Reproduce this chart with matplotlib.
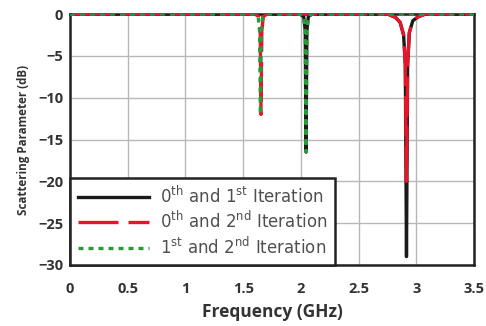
import matplotlib
matplotlib.use("Agg")
import matplotlib.pyplot as plt

# Series (frequency in GHz, scattering parameter in dB)
f_black = [0.0, 1.99, 2.025, 2.038, 2.045, 2.052, 2.065, 2.10, 2.75, 2.82, 2.86, 2.89, 2.905, 2.915, 2.925, 2.94, 2.97, 3.02, 3.08, 3.5]
s_black = [0.0, 0.0, -0.3, -2.0, -16.5, -2.0, -0.3, 0.0, 0.0, -0.4, -1.0, -2.5, -6.0, -29.0, -6.0, -2.2, -0.8, -0.3, 0.0, 0.0]

f_red = [0.0, 1.60, 1.635, 1.648, 1.655, 1.662, 1.675, 1.71, 2.75, 2.82, 2.86, 2.89, 2.905, 2.915, 2.925, 2.94, 2.97, 3.02, 3.08, 3.5]
s_red = [0.0, 0.0, -0.3, -2.0, -12.0, -2.0, -0.3, 0.0, 0.0, -0.4, -1.0, -2.5, -6.0, -20.0, -6.0, -2.2, -0.8, -0.3, 0.0, 0.0]

f_green = [0.0, 1.60, 1.630, 1.642, 1.650, 1.657, 1.670, 1.70, 1.99, 2.025, 2.038, 2.045, 2.052, 2.065, 2.10, 3.5]
s_green = [0.0, 0.0, -0.3, -2.0, -12.0, -2.0, -0.3, 0.0, 0.0, -0.3, -2.0, -16.5, -2.0, -0.3, 0.0, 0.0]

labels = [r"0$^{\rm th}$ and 1$^{\rm st}$ Iteration",
          r"0$^{\rm th}$ and 2$^{\rm nd}$ Iteration",
          r"1$^{\rm st}$ and 2$^{\rm nd}$ Iteration"]
x_ticks = [0, 0.5, 1, 1.5, 2, 2.5, 3, 3.5]
x_tick_labels = ["0", "0.5", "1", "1.5", "2", "2.5", "3", "3.5"]
y_ticks = [0, -5, -10, -15, -20, -25, -30]

plt.rcParams['font.family'] = ['Open Sans', 'DejaVu Sans']
plt.rcParams['mathtext.fontset'] = 'custom'
plt.rcParams['mathtext.rm'] = 'DejaVu Sans'

fig = plt.figure(figsize=(4.86, 3.26), dpi=100)
ax = fig.add_axes([70/486, 1-265/326, (474-70)/486, (265-14)/326])

ax.plot(f_black, s_black, color="#1a1a1a", lw=2.4, label=labels[0], zorder=3)
ax.plot(f_red, s_red, color="#e8142a", lw=2.4, ls=(0, (12, 3)), label=labels[1], zorder=4)
ax.plot(f_green, s_green, color="#2a9a36", lw=2.4, ls=(0, (1.5, 1.5)), label=labels[2], zorder=5)

ax.set_xlim(0, 3.5)
ax.set_ylim(-30, 0)
ax.set_xticks(x_ticks)
ax.set_xticklabels(x_tick_labels)
ax.set_yticks(y_ticks)
ax.grid(True, color="#b8b8b8", lw=1.0)
ax.tick_params(length=0, labelsize=10.5)
ax.tick_params(axis="x", pad=12)
ax.tick_params(axis="y", pad=5)
for lab in ax.get_xticklabels() + ax.get_yticklabels():
    lab.set_fontweight("bold")
    lab.set_color("#333333")
for sp in ax.spines.values():
    sp.set_linewidth(1.8)
    sp.set_color("#222222")

ax.set_xlabel("Frequency (GHz)", fontsize=12.5, fontweight="bold", color="#333333", labelpad=5)
ax.set_ylabel("Scattering Parameter (dB)", fontsize=8.4, fontweight="bold", color="#333333", labelpad=6)

leg = ax.legend(loc="lower left", borderaxespad=0, fancybox=False, framealpha=1,
                edgecolor="#222222", prop={"size": 12, "family": "DejaVu Sans"},
                handlelength=4.3, handletextpad=0.65,
                labelspacing=0.25, borderpad=0.45)
leg.get_frame().set_linewidth(1.8)
for t in leg.get_texts():
    t.set_color("#505050")

fig.savefig("out.png", dpi=100)
